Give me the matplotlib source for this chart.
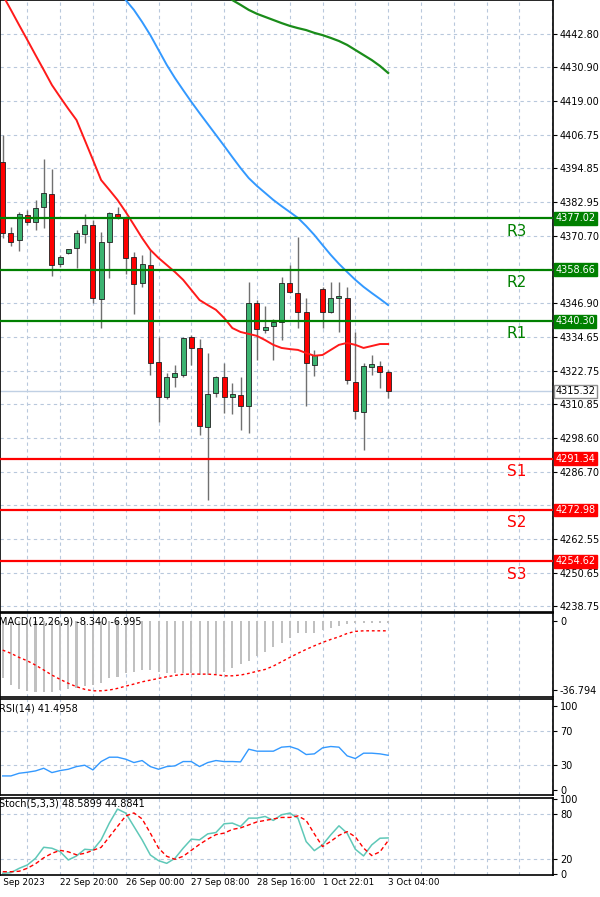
import numpy as np
import matplotlib.pyplot as plt
from matplotlib.patches import Rectangle
from matplotlib.transforms import blended_transform_factory

# candle data (open, high, low, close)
opens = [4397.2, 4371.9, 4369.3, 4378.2, 4375.8, 4381.2, 4385.6, 4360.7, 4364.5, 4366.3, 4371.4, 4374.5,
         4348.1, 4368.5, 4378.6, 4377.3, 4363.4, 4353.8, 4360.4, 4325.7, 4313.4, 4320.3, 4321.1, 4334.6,
         4330.9, 4302.7, 4314.6, 4320.3, 4313.2, 4314.0, 4310.2, 4346.7, 4337.2, 4338.6, 4339.9, 4353.8,
         4350.5, 4343.5, 4324.7, 4351.7, 4343.5, 4348.5, 4348.7, 4318.8, 4307.9, 4324.1, 4324.4, 4322.3]
highs = [4406.8, 4374.1, 4379.4, 4380.0, 4383.6, 4398.1, 4394.5, 4363.9, 4366.2, 4372.9, 4378.6, 4376.4,
         4372.3, 4379.4, 4381.0, 4377.5, 4365.1, 4363.9, 4365.7, 4334.8, 4321.7, 4324.7, 4334.8, 4335.4,
         4333.9, 4329.1, 4320.8, 4325.3, 4318.2, 4320.5, 4354.4, 4347.9, 4345.8, 4341.0, 4356.2, 4360.4,
         4370.5, 4348.7, 4330.1, 4352.4, 4354.4, 4354.4, 4352.7, 4336.6, 4325.3, 4328.3, 4326.3, 4322.9]
lows = [4369.9, 4367.1, 4365.5, 4374.7, 4372.9, 4373.5, 4356.5, 4359.8, 4364.3, 4359.2, 4368.1, 4346.7,
        4337.8, 4355.6, 4376.7, 4357.2, 4342.9, 4352.4, 4321.1, 4304.5, 4312.5, 4317.0, 4320.5, 4324.7,
        4299.7, 4276.5, 4313.2, 4307.5, 4307.2, 4301.5, 4300.3, 4326.5, 4336.0, 4326.5, 4333.6, 4350.3,
        4337.8, 4310.1, 4320.8, 4337.8, 4343.1, 4336.6, 4317.9, 4305.3, 4294.4, 4321.1, 4316.4, 4312.8]
closes = [4371.7, 4368.7, 4378.6, 4375.8, 4380.8, 4385.9, 4360.4, 4363.4, 4366.0, 4371.7, 4374.5, 4348.5,
          4368.7, 4379.0, 4377.0, 4363.0, 4353.6, 4360.7, 4325.3, 4313.2, 4320.3, 4321.7, 4334.2, 4330.9,
          4303.0, 4314.2, 4320.3, 4313.2, 4314.2, 4310.2, 4346.7, 4337.4, 4338.1, 4340.2, 4353.8, 4350.9,
          4343.5, 4325.5, 4328.3, 4343.5, 4348.5, 4349.3, 4319.4, 4308.3, 4324.4, 4325.0, 4322.1, 4315.32]

nan = np.nan
ma_red = [4456.7, 4451.4, 4446.0, 4440.7, 4435.3, 4430.0, 4424.6, 4420.3, 4416.1, 4412.1, 4405.0, 4397.9,
          4390.7, 4387.2, 4383.6, 4379.3, 4374.7, 4370.0, 4365.8, 4362.9, 4360.4, 4357.9, 4355.1, 4351.5,
          4347.9, 4346.1, 4344.4, 4341.5, 4337.9, 4336.5, 4335.8, 4335.1, 4333.6, 4331.9, 4330.8, 4330.4,
          4330.1, 4329.0, 4328.0, 4328.3, 4330.1, 4331.9, 4332.6, 4331.9, 4330.8, 4331.5, 4332.2, 4332.2]
ma_blue = [nan] * 14 + [4459.2, 4454.9, 4451.4, 4447.1, 4442.4, 4437.1, 4431.8, 4427.1, 4422.8, 4418.6,
                        4414.6, 4410.7, 4406.8, 4402.9, 4398.9, 4395.0, 4391.4, 4388.6, 4386.1, 4383.6,
                        4381.4, 4379.3, 4377.2, 4374.3, 4371.1, 4367.5, 4364.0, 4360.8, 4357.9, 4355.1,
                        4352.6, 4350.4, 4348.3, 4346.1]
ma_green = [nan] * 27 + [4457.0, 4454.9, 4453.2, 4451.4, 4450.0, 4448.9, 4447.8, 4446.7, 4445.7, 4444.9,
                         4444.2, 4443.2, 4442.4, 4441.4, 4440.3, 4438.9, 4437.1, 4435.3, 4433.5, 4431.4,
                         4428.9]

level_names = ["R3", "R2", "R1", "S1", "S2", "S3"]
level_values = [4377.02, 4358.66, 4340.30, 4291.34, 4272.98, 4254.62]
current_price = 4315.32
price_ticks = [4442.80, 4430.90, 4419.00, 4406.75, 4394.85, 4382.95, 4370.70, 4346.90,
               4334.65, 4322.75, 4310.85, 4298.60, 4286.70, 4262.55, 4250.65, 4238.75]
grid_ticks = price_ticks + [4358.80, 4274.80]

macd_hist = [-30.6, -34.1, -36.4, -37.3, -37.7, -37.7, -37.7, -36.8, -36.4, -35.9, -34.7, -34.1,
             -32.9, -30.6, -29.7, -27.9, -27.0, -26.1, -26.1, -27.0, -27.9, -27.9, -27.6, -27.9,
             -28.8, -28.8, -28.3, -27.0, -25.2, -22.9, -21.2, -18.7, -16.4, -14.0, -11.6, -9.2,
             -6.6, -6.6, -6.2, -4.8, -3.9, -2.7, -1.6, -0.9, -0.9, -0.9, -0.9, -1.2]
macd_signal = [-15.5, -17.2, -19.4, -21.2, -23.5, -26.1, -28.8, -31.1, -33.2, -35.0, -36.4, -37.2,
               -37.2, -36.8, -35.9, -34.7, -33.6, -32.4, -31.5, -30.6, -29.7, -29.0, -28.4, -28.3,
               -28.3, -28.3, -28.6, -29.2, -29.2, -28.8, -27.9, -26.8, -25.8, -24.0, -21.7, -19.4,
               -17.2, -15.1, -13.2, -11.4, -9.8, -8.4, -6.6, -5.5, -5.2, -5.2, -5.2, -5.2]
rsi = [16.8, 16.8, 20.0, 21.2, 22.8, 26.0, 20.8, 23.2, 24.8, 28.0, 29.6, 24.0, 34.0, 39.2, 39.2, 36.8,
       32.8, 35.2, 28.0, 24.8, 28.0, 28.8, 34.0, 34.0, 28.0, 32.8, 35.2, 34.0, 34.0, 33.6, 48.8, 46.4,
       46.4, 46.4, 51.2, 52.0, 48.8, 42.4, 43.2, 50.4, 52.0, 51.2, 40.8, 37.6, 44.0, 44.0, 43.2, 41.5]
stoch_k = [1.2, 2.1, 7.9, 12.4, 21.3, 36.1, 34.8, 30.3, 19.1, 24.5, 33.4, 32.5, 46.0, 68.4, 87.2, 81.8,
           63.9, 46.0, 25.8, 18.2, 14.6, 21.3, 34.8, 46.9, 46.0, 54.0, 55.8, 67.5, 68.4, 63.9, 75.1, 75.1,
           77.3, 72.0, 79.6, 81.8, 75.1, 43.7, 31.6, 39.3, 52.7, 64.8, 54.9, 33.4, 24.5, 39.3, 48.2, 48.59]
stoch_d = [3.4, 3.4, 4.0, 8.0, 14.0, 22.0, 28.0, 32.0, 30.0, 26.0, 28.0, 32.0, 36.0, 50.0, 64.0, 78.0,
           82.0, 74.0, 55.0, 35.0, 24.0, 20.0, 24.0, 32.0, 40.0, 47.0, 53.0, 55.0, 60.0, 62.0, 66.0, 70.0,
           72.0, 74.0, 76.0, 76.0, 78.0, 72.0, 54.0, 37.0, 44.0, 52.0, 57.0, 50.0, 35.0, 25.0, 30.0, 44.88]

date_pos = [-1, 7, 15, 23, 31, 39, 47]
date_labels = ["1 Sep 2023", "22 Sep 20:00", "26 Sep 00:00", "27 Sep 08:00", "28 Sep 16:00",
               "1 Oct 22:01", "3 Oct 04:00"]

GRID = "#b8c8dc"
XLIM = (-0.33, 67.1)
FS = 7

fig = plt.figure(figsize=(6, 8.97), dpi=100)
W = 553 / 600
ax = fig.add_axes([0, 1 - 612 / 897, W, 612 / 897])
ax_macd = fig.add_axes([0, 1 - 697 / 897, W, 84 / 897])
ax_rsi = fig.add_axes([0, 1 - 795 / 897, W, 96 / 897])
ax_st = fig.add_axes([0, 1 - 875 / 897, W, 77 / 897])

x = np.arange(len(opens))
for a in (ax, ax_macd, ax_rsi, ax_st):
    a.set_xlim(*XLIM)
    a.set_xticks([])
    for xv in range(3, 68, 4):
        a.axvline(xv, color=GRID, lw=0.8, ls=(0, (3, 3)), zorder=0)
    for s in a.spines.values():
        s.set_linewidth(1.2)
    a.yaxis.tick_right()
    a.tick_params(axis="y", labelsize=FS, length=3, pad=2)

# main panel
ax.set_ylim(4236.6, 4454.93)
ax.set_yticks(price_ticks)
ax.set_yticklabels([f"{v:.2f}" for v in price_ticks])
for v in grid_ticks:
    ax.axhline(v, color=GRID, lw=0.8, ls=(0, (3, 3)), zorder=0)

for i in x:
    up = closes[i] >= opens[i]
    ax.vlines(i, lows[i], highs[i], color="#707070", lw=1, zorder=2)
    lo = min(opens[i], closes[i])
    h = max(abs(closes[i] - opens[i]), 0.4)
    ax.add_patch(Rectangle((i - 0.3, lo), 0.6, h, facecolor="#3cb371" if up else "#ff0000",
                           edgecolor="#202020", lw=0.6, zorder=3))

ax.plot(x, ma_red, color="#ff1a1a", lw=1.4, zorder=4)
ax.plot(x, ma_blue, color="#3399ff", lw=1.4, zorder=4)
ax.plot(x, ma_green, color="#1a8c1a", lw=1.6, zorder=4)

tr = blended_transform_factory(ax.transAxes, ax.transData)
ax.axhline(current_price, color="#c0d0e4", lw=1, zorder=1)
for name, val in zip(level_names, level_values):
    col = "#008000" if name.startswith("R") else "#ff0000"
    ax.axhline(val, color=col, lw=1.6, zorder=5)
    ax.text(0.935, val - 4.5, name, transform=tr, color=col, fontsize=11, ha="center", va="center")
    ax.text(1.004, val, f"{val:.2f}", transform=tr, color="white", fontsize=FS, ha="left", va="center",
            bbox=dict(boxstyle="square,pad=0.15", fc=col, ec=col), clip_on=False, zorder=10)
ax.text(1.004, current_price, f"{current_price:.2f}", transform=tr, color="black", fontsize=FS,
        ha="left", va="center", bbox=dict(boxstyle="square,pad=0.15", fc="white", ec="#909090"),
        clip_on=False, zorder=10)

# MACD
ax_macd.set_ylim(-40.5, 4.3)
ax_macd.bar(x, macd_hist, width=0.25, color="#c0c0c0", zorder=2)
ax_macd.plot(x, macd_signal, color="#ff0000", lw=1, ls=(0, (2, 2)), zorder=3)
ax_macd.set_yticks([0, -36.794])
ax_macd.set_yticklabels(["0", "-36.794"])
ax_macd.text(-0.5, 2.5, "MACD(12,26,9) -8.340 -6.995", fontsize=FS, va="top", ha="left")

# RSI
ax_rsi.set_ylim(-6, 108.8)
for v in (70, 30):
    ax_rsi.axhline(v, color=GRID, lw=0.8, ls=(0, (3, 3)), zorder=0)
ax_rsi.plot(x, rsi, color="#3399ff", lw=1)
ax_rsi.set_yticks([100, 70, 30, 0])
ax_rsi.text(-0.5, 104, "RSI(14) 41.4958", fontsize=FS, va="top", ha="left")

# Stochastic
ax_st.set_ylim(-1, 102)
for v in (80, 20):
    ax_st.axhline(v, color=GRID, lw=0.8, ls=(0, (3, 3)), zorder=0)
ax_st.plot(x, stoch_k, color="#5fc8b8", lw=1.1)
ax_st.plot(x, stoch_d, color="#ff0000", lw=1, ls=(0, (3, 2)))
ax_st.set_yticks([100, 80, 20, 0])
ax_st.text(-0.5, 101, "Stoch(5,3,3) 48.5899 44.8841", fontsize=FS, va="top", ha="left")

for p, lab in zip(date_pos, date_labels):
    ax_st.text(p, -5, lab, fontsize=6.3, ha="left", va="top", clip_on=False)

fig.savefig("out.png", dpi=100)
